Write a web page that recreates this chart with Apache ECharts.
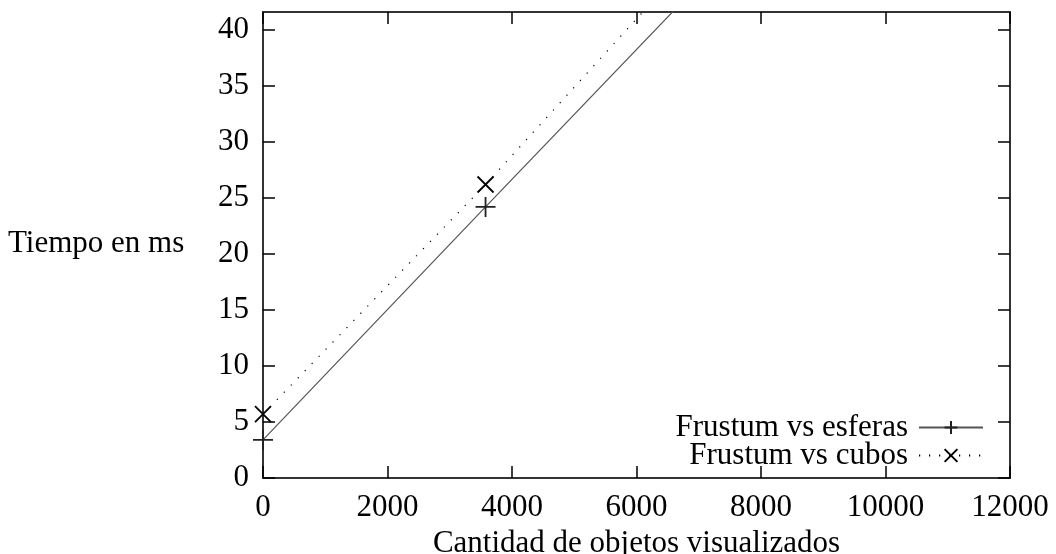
<!DOCTYPE html>
<html>
<head>
<meta charset="utf-8">
<script src="https://cdn.jsdelivr.net/npm/echarts@6/dist/echarts.min.js"></script>
<style>
  html, body { margin: 0; padding: 0; background: #fff; }
  #main { width: 1056px; height: 554px; }
</style>
</head>
<body>
<div id="main"></div>
<script>
// datos (el tercer punto queda fuera del rango visible)
const objetos = [0, 3575, 7200];
const tiempoEsferas = [3.4, 24.2, 45.2];
const tiempoCubos = [5.7, 26.2, 48.3];
const xTicks = [0, 2000, 4000, 6000, 8000, 10000, 12000];
const yTicks = [0, 5, 10, 15, 20, 25, 30, 35, 40];

const font = '"Liberation Serif", "DejaVu Serif", serif';
const fs = 31;
const plusPath = 'path://M0,10L20,10M10,0L10,20';
const crossPath = 'path://M0,0L20,20M20,0L0,20';

var myChart = echarts.init(document.getElementById('main'));

const frame = { show: true, onZero: false, lineStyle: { color: '#333', width: 2 } };
const ticksIn = { show: true, inside: true, length: 12, lineStyle: { color: '#000', width: 1.5 } };

myChart.setOption({
  animation: false,
  grid: { left: 263, right: 46, top: 12, bottom: 76, containLabel: false, outerBoundsMode: 'none' },
  textStyle: { fontFamily: font },
  xAxis: [
    {
      type: 'value', min: 0, max: 12000, interval: 2000,
      position: 'bottom',
      axisLine: frame,
      axisTick: Object.assign({ customValues: xTicks }, ticksIn),
      axisLabel: { customValues: xTicks, formatter: v => String(v), color: '#000', fontSize: fs, fontFamily: font, margin: 14 },
      splitLine: { show: false },
      name: 'Cantidad de objetos visualizados',
      nameLocation: 'middle', nameGap: 45,
      nameTextStyle: { color: '#000', fontSize: fs, fontFamily: font }
    },
    {
      type: 'value', min: 0, max: 12000, interval: 2000,
      position: 'top',
      axisLine: frame,
      axisTick: Object.assign({ customValues: xTicks }, ticksIn),
      axisLabel: { show: false },
      splitLine: { show: false }
    }
  ],
  yAxis: [
    {
      type: 'value', min: 0, max: 41.6, interval: 5,
      position: 'left',
      axisLine: frame,
      axisTick: Object.assign({ customValues: yTicks }, ticksIn),
      axisLabel: { customValues: yTicks, color: '#000', fontSize: fs, fontFamily: font, margin: 14 },
      splitLine: { show: false }
    },
    {
      type: 'value', min: 0, max: 41.6, interval: 5,
      position: 'right',
      axisLine: frame,
      axisTick: Object.assign({ customValues: yTicks }, ticksIn),
      axisLabel: { show: false },
      splitLine: { show: false }
    }
  ],
  graphic: [
    {
      type: 'text', left: 8, top: 228,
      style: { text: 'Tiempo en ms', fill: '#000', font: fs + 'px ' + font }
    }
  ],
  legend: {
    orient: 'vertical',
    right: 67, top: 407,
    align: 'right',
    itemWidth: 64, itemHeight: 16, itemGap: -3,
    textStyle: { color: '#000', fontSize: fs, fontFamily: font, lineHeight: 24, padding: [0, 6, 0, 0] },
    data: ['Frustum vs esferas', 'Frustum vs cubos']
  },
  series: [
    {
      name: 'Frustum vs esferas',
      type: 'line',
      data: objetos.map((x, i) => [x, tiempoEsferas[i]]),
      symbol: plusPath, symbolSize: 20,
      itemStyle: { color: 'transparent', borderColor: '#222', borderWidth: 1.8 },
      lineStyle: { color: '#555', width: 1.2, type: 'solid' },
      clip: true
    },
    {
      name: 'Frustum vs cubos',
      type: 'line',
      data: objetos.map((x, i) => [x, tiempoCubos[i]]),
      symbol: crossPath, symbolSize: 16,
      itemStyle: { color: 'transparent', borderColor: '#000', borderWidth: 1.8 },
      lineStyle: { color: '#000', width: 1.2, type: [1.2, 8.8] },
      clip: true
    }
  ]
});
</script>
</body>
</html>
